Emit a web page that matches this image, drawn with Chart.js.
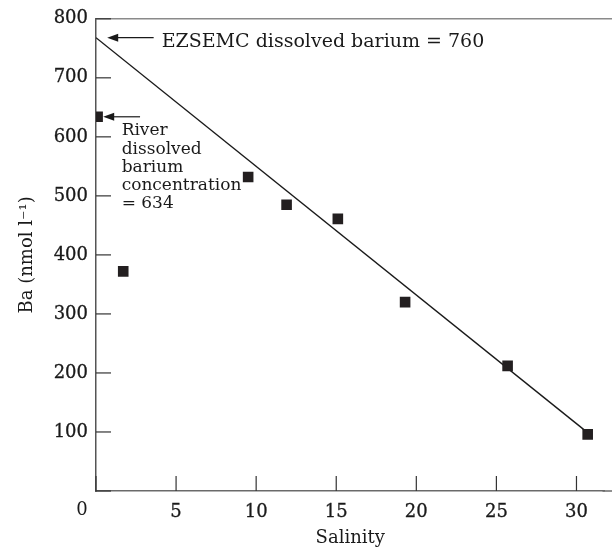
<!DOCTYPE html>
<html>
<head>
<meta charset="utf-8">
<script src="https://cdn.jsdelivr.net/npm/chart.js@4.4.1/dist/chart.umd.min.js"></script>
<style>
  body { margin: 0; background: #fff; }
  canvas { display: block; }
</style>
</head>
<body>
<canvas id="myChart" width="612" height="550"></canvas>
<script>
// salinity vs dissolved barium
const salinity = [0.1, 1.7, 9.5, 11.9, 15.1, 19.3, 25.7, 30.7];
const barium = [634, 372, 532, 485, 461, 320, 212, 96];

// mixing line (EZSEMC end member -> seawater)
const lineX = [0, 30.6];
const lineY = [768, 101];

const xTicks = [0, 5, 10, 15, 20, 25, 30];
const yTicks = [0, 100, 200, 300, 400, 500, 600, 700, 800];

const serif = "'DejaVu Serif', 'Liberation Serif', serif";
const ink = "#1a1a1a";

// inward ticks, frame lines, arrows and notes
const decor = {
  id: "decor",
  afterDraw(chart) {
    const ctx = chart.ctx;
    const x = chart.scales.x;
    const y = chart.scales.y;
    const area = chart.chartArea;
    ctx.save();

    ctx.lineWidth = 1.5;
    ctx.strokeStyle = "#8a8a8a";
    ctx.beginPath();
    ctx.moveTo(area.left, area.top);
    ctx.lineTo(chart.width, area.top);
    ctx.stroke();
    ctx.strokeStyle = "#6a6a6a";
    ctx.beginPath();
    ctx.moveTo(area.right - 2, area.bottom);
    ctx.lineTo(chart.width, area.bottom);
    ctx.stroke();

    ctx.strokeStyle = "#333";
    ctx.lineWidth = 1.2;
    yTicks.forEach((v) => {
      const py = y.getPixelForValue(v);
      ctx.beginPath();
      ctx.moveTo(area.left, py);
      ctx.lineTo(area.left + 15, py);
      ctx.stroke();
    });
    xTicks.forEach((v) => {
      const px = x.getPixelForValue(v);
      ctx.beginPath();
      ctx.moveTo(px, area.bottom);
      ctx.lineTo(px, area.bottom - 15);
      ctx.stroke();
    });

    // the shared origin label
    ctx.fillStyle = ink;
    ctx.font = "18px " + serif;
    ctx.textAlign = "center";
    ctx.textBaseline = "middle";
    ctx.fillText("0", x.getPixelForValue(0) - 14, area.bottom + 19);

    function arrow(x1, x2, py) {
      ctx.strokeStyle = ink;
      ctx.fillStyle = ink;
      ctx.lineWidth = 1.2;
      ctx.beginPath();
      ctx.moveTo(x1 + 8, py);
      ctx.lineTo(x2, py);
      ctx.stroke();
      ctx.beginPath();
      ctx.moveTo(x1, py);
      ctx.lineTo(x1 + 11, py - 4);
      ctx.lineTo(x1 + 11, py + 4);
      ctx.closePath();
      ctx.fill();
    }

    const a1y = y.getPixelForValue(lineY[0]);
    arrow(x.getPixelForValue(0.7), x.getPixelForValue(3.6), a1y);
    ctx.textAlign = "left";
    ctx.textBaseline = "middle";
    ctx.font = "19px " + serif;
    ctx.fillText("EZSEMC dissolved barium = 760", x.getPixelForValue(4.1), a1y + 4);

    const a2y = y.getPixelForValue(barium[0]);
    arrow(x.getPixelForValue(0.45), x.getPixelForValue(2.75), a2y);
    ctx.font = "17px " + serif;
    const note = ["River", "dissolved", "barium", "concentration", "= 634"];
    note.forEach((t, i) => {
      ctx.fillText(t, x.getPixelForValue(1.6), a2y + 14 + i * 18.3);
    });

    ctx.restore();
  },
};

const config = {
  type: "scatter",
  data: {
    datasets: [
      {
        label: "Ba",
        data: salinity.map((s, i) => ({ x: s, y: barium[i] })),
        pointStyle: "rect",
        pointRadius: 7.5,
        backgroundColor: "#231f20",
        borderColor: "#231f20",
        borderWidth: 0,
      },
      {
        type: "line",
        label: "mixing",
        data: lineX.map((s, i) => ({ x: s, y: lineY[i] })),
        borderColor: ink,
        borderWidth: 1.4,
        pointRadius: 0,
        fill: false,
      },
    ],
  },
  options: {
    responsive: false,
    animation: false,
    layout: { padding: { top: 16, right: 0, left: 0, bottom: 0 } },
    plugins: {
      legend: { display: false },
      tooltip: { enabled: false },
    },
    scales: {
      x: {
        type: "linear",
        min: 0,
        max: 31.75,
        afterBuildTicks: (scale) => {
          scale.ticks = xTicks.map((v) => ({ value: v }));
        },
        afterFit: (scale) => {
          scale.height = 59;
        },
        grid: { display: false, drawTicks: false },
        border: { display: true, color: "#6a6a6a", width: 1.5 },
        ticks: {
          color: ink,
          padding: 11,
          textStrokeColor: ink,
          textStrokeWidth: 0.3,
          font: { family: serif, size: 18 },
          callback: (v) => (v === 0 ? "" : v),
        },
        title: {
          display: true,
          text: "Salinity",
          color: ink,
          font: { family: serif, size: 18 },
          padding: { bottom: 1 },
        },
      },
      y: {
        min: 0,
        max: 800,
        afterBuildTicks: (scale) => {
          scale.ticks = yTicks.map((v) => ({ value: v }));
        },
        afterFit: (scale) => {
          scale.width = 96;
        },
        grid: { display: false, drawTicks: false },
        border: { display: true, color: "#555", width: 1.5 },
        ticks: {
          color: ink,
          padding: 8,
          textStrokeColor: ink,
          textStrokeWidth: 0.3,
          font: { family: serif, size: 18 },
          callback: (v) => (v === 0 ? "" : v),
        },
        title: {
          display: true,
          text: "Ba (nmol l\u207B\u00B9)",
          color: ink,
          font: { family: serif, size: 18 },
          padding: { top: 17 },
        },
      },
    },
  },
  plugins: [decor],
};

const myChart = new Chart(
  document.getElementById("myChart").getContext("2d"),
  config
);
</script>
</body>
</html>
